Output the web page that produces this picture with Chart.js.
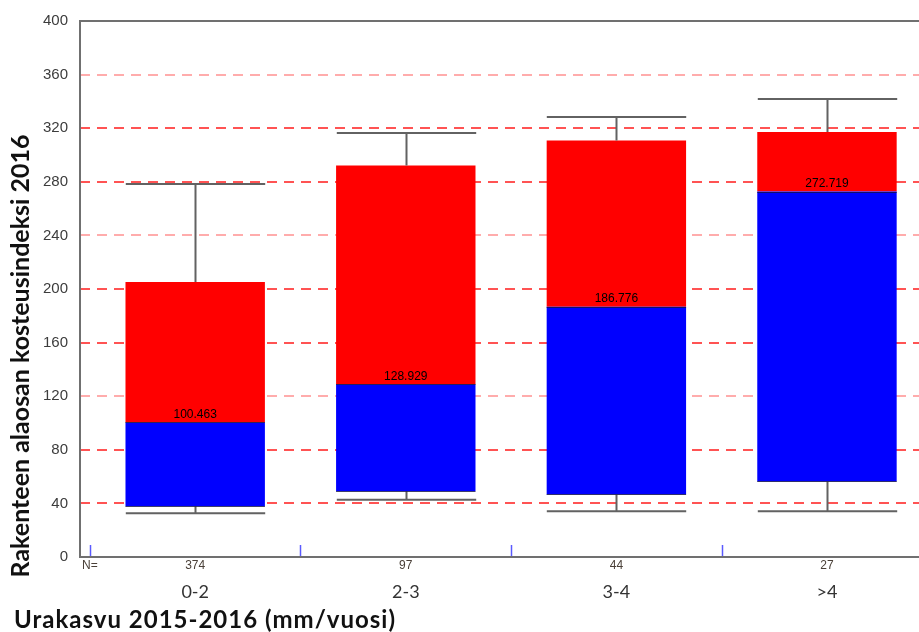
<!DOCTYPE html>
<html>
<head>
<meta charset="utf-8">
<script src="https://cdn.jsdelivr.net/npm/chart.js@4"></script>
<style>
  html, body { margin: 0; padding: 0; background: #ffffff; overflow: hidden; }
  #wrap { width: 919px; height: 632px; }
</style>
</head>
<body>
<div id="wrap"><canvas id="box" width="919" height="632"></canvas></div>
<script>
// Growth classes and box-plot statistics of the moisture index per class
const categories   = ['0-2', '2-3', '3-4', '>4'];
const counts       = [374, 97, 44, 27];
const whiskerLow   = [32.7, 42.8, 34.2, 34.2];
const quartile1    = [37.8, 49.0, 46.7, 56.4];
const medians      = [100.463, 128.929, 186.776, 272.719];
const quartile3    = [205.2, 292.2, 310.9, 317.2];
const whiskerHigh  = [278.3, 316.4, 328.4, 341.8];
const yTicks       = [0, 40, 80, 120, 160, 200, 240, 280, 320, 360, 400];

const lowerBox = categories.map((c, i) => ({ x: i, y: [quartile1[i], medians[i]] }));
const upperBox = categories.map((c, i) => ({ x: i, y: [medians[i], quartile3[i]] }));

const TITLE_FONT = 'Lato, "Open Sans", sans-serif';

const boxPlotExtras = {
  id: 'boxPlotExtras',
  afterDatasetsDraw(chart) {
    const { ctx, chartArea: a, scales: { x, y } } = chart;
    const half = chart.getDatasetMeta(0).data[0].width / 2;
    ctx.save();

    // whiskers with caps
    ctx.strokeStyle = '#626262';
    ctx.lineWidth = 2;
    categories.forEach((c, i) => {
      const cx = Math.round(x.getPixelForValue(i)) + 0.5;
      const yLo = y.getPixelForValue(whiskerLow[i]);
      const yQ1 = y.getPixelForValue(quartile1[i]);
      const yQ3 = y.getPixelForValue(quartile3[i]);
      const yHi = y.getPixelForValue(whiskerHigh[i]);
      ctx.beginPath();
      ctx.moveTo(cx, yQ1); ctx.lineTo(cx, yLo);
      ctx.moveTo(cx - half, yLo); ctx.lineTo(cx + half, yLo);
      ctx.moveTo(cx, yQ3); ctx.lineTo(cx, yHi);
      ctx.moveTo(cx - half, yHi); ctx.lineTo(cx + half, yHi);
      ctx.stroke();
    });

    // thin edges at the lower quartile and the median
    ctx.lineWidth = 1;
    ctx.strokeStyle = 'rgba(20,20,60,0.75)';
    categories.forEach((c, i) => {
      const cx = x.getPixelForValue(i);
      [quartile1[i], medians[i]].forEach(v => {
        const py = Math.round(y.getPixelForValue(v)) + 0.5;
        ctx.beginPath();
        ctx.moveTo(cx - half, py); ctx.lineTo(cx + half, py);
        ctx.stroke();
      });
    });

    // median value labels
    ctx.fillStyle = '#000000';
    ctx.font = '12px "Liberation Sans", Arial, sans-serif';
    ctx.textAlign = 'center';
    ctx.textBaseline = 'bottom';
    categories.forEach((c, i) => {
      ctx.fillText(medians[i].toFixed(3), x.getPixelForValue(i), y.getPixelForValue(medians[i]) - 2);
    });

    // plot frame: left, top and bottom axis lines
    ctx.strokeStyle = '#707070';
    ctx.lineWidth = 2;
    ctx.beginPath();
    ctx.moveTo(a.right + 2, a.top); ctx.lineTo(a.left, a.top);
    ctx.lineTo(a.left, a.bottom); ctx.lineTo(a.right + 2, a.bottom);
    ctx.stroke();

    // class boundary marks
    ctx.strokeStyle = '#5a5aff';
    ctx.lineWidth = 1.5;
    for (let b = -0.5; b < categories.length - 0.5; b += 1) {
      const bx = Math.round(x.getPixelForValue(b)) + 0.5;
      ctx.beginPath();
      ctx.moveTo(bx, a.bottom - 1); ctx.lineTo(bx, a.bottom - 12);
      ctx.stroke();
    }

    // group sizes
    ctx.fillStyle = '#4a4038';
    ctx.font = '12px "Liberation Sans", Arial, sans-serif';
    ctx.textBaseline = 'middle';
    ctx.textAlign = 'left';
    ctx.fillText('N=', 82, a.bottom + 9);
    ctx.textAlign = 'center';
    categories.forEach((c, i) => {
      ctx.fillText(String(counts[i]), x.getPixelForValue(i), a.bottom + 9);
    });

    // axis titles
    ctx.fillStyle = '#111111';
    ctx.font = 'bold 24px ' + TITLE_FONT;
    ctx.textAlign = 'left';
    ctx.textBaseline = 'middle';
    ctx.letterSpacing = '1px';
    ctx.fillText('Urakasvu 2015-2016 (mm/vuosi)', 14, 620);
    ctx.letterSpacing = '0px';

    ctx.font = 'bold 25px ' + TITLE_FONT;
    ctx.translate(21, 356);
    ctx.rotate(-Math.PI / 2);
    ctx.textAlign = 'center';
    ctx.fillText('Rakenteen alaosan kosteusindeksi 2016', 0, 0);
    ctx.restore();
  }
};

new Chart(document.getElementById('box'), {
  type: 'bar',
  data: {
    datasets: [
      { data: lowerBox, backgroundColor: '#0000ff', grouped: false,
        categoryPercentage: 1, barPercentage: 0.662 },
      { data: upperBox, backgroundColor: '#ff0000', grouped: false,
        categoryPercentage: 1, barPercentage: 0.662 }
    ]
  },
  options: {
    responsive: false,
    animation: false,
    layout: { padding: { top: 21, right: 0, bottom: 0, left: 0 } },
    plugins: { legend: { display: false }, tooltip: { enabled: false } },
    scales: {
      x: {
        type: 'linear',
        offset: false,
        min: -0.547,
        max: 3.437,
        afterBuildTicks: s => { s.ticks = categories.map((c, i) => ({ value: i })); },
        afterFit: s => { s.height = 75; },
        grid: { display: false, drawTicks: false, offset: false },
        border: { display: false },
        ticks: {
          callback: v => categories[v],
          padding: 24,
          autoSkip: false,
          maxRotation: 0,
          color: '#333333',
          font: { family: TITLE_FONT, size: 18 }
        }
      },
      y: {
        min: 0,
        max: 400,
        afterBuildTicks: s => { s.ticks = yTicks.map(v => ({ value: v })); },
        afterFit: s => { s.width = 80; },
        grid: {
          drawTicks: false,
          lineWidth: 2,
          color: c => {
            const v = c.tick ? c.tick.value : 0;
            if (v === 0 || v === 400) return 'rgba(0,0,0,0)';
            return (v === 360 || v === 240 || v === 120) ? 'rgba(255,90,90,0.5)' : 'rgba(255,40,40,0.8)';
          }
        },
        border: { display: false, dash: [10, 7] },
        ticks: {
          padding: 12,
          color: '#3c3c3c',
          font: { family: '"Liberation Sans", Arial, sans-serif', size: 15 }
        }
      }
    }
  },
  plugins: [boxPlotExtras]
});
</script>
</body>
</html>
